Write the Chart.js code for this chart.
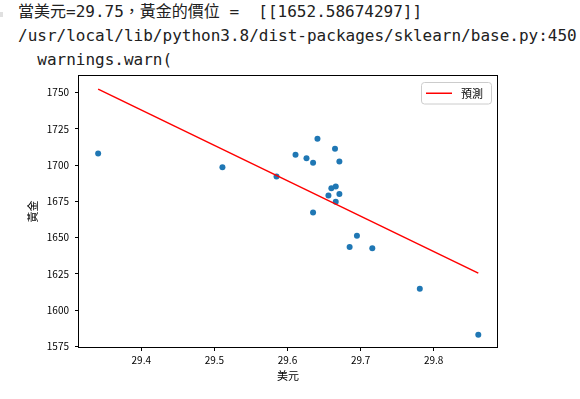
<!DOCTYPE html>
<html lang="zh-Hant">
<head>
<meta charset="utf-8">
<title>美元與黃金</title>
<script src="https://cdn.jsdelivr.net/npm/chart.js@4.4.1/dist/chart.umd.min.js"></script>
<style>
  html, body { margin: 0; padding: 0; background: #fff; }
  body { width: 580px; height: 399px; overflow: hidden; position: relative; }
  #out { position: absolute; left: 18px; top: 0; margin: 0; color: #212121; white-space: pre;
         font: 16px/24px "DejaVu Sans Mono", "Noto Sans CJK TC", monospace; }
  #mark { position: absolute; left: 0; top: 12px; width: 3px; height: 5px; background: #e0e0e0; }
  #chart { position: absolute; left: 0; top: 70px; }
</style>
</head>
<body>
<div id="mark"></div>
<pre id="out">當美元=29.75，黃金的價位 =  [[1652.58674297]]
/usr/local/lib/python3.8/dist-packages/sklearn/base.py:450
  warnings.warn(</pre>
<canvas id="chart" width="580" height="329"></canvas>
<script>
'use strict';

// ---------- データ ----------
const usd  = [29.341, 29.511, 29.585, 29.611, 29.626, 29.635, 29.641, 29.665, 29.671, 29.660,
              29.666, 29.671, 29.656, 29.666, 29.635, 29.695, 29.685, 29.716, 29.781, 29.861];
const gold = [1708.1, 1698.6, 1692.2, 1707.2, 1704.8, 1701.7, 1718.2, 1711.3, 1702.6, 1684.1,
              1685.3, 1680.2, 1679.1, 1674.7, 1667.3, 1651.4, 1643.6, 1642.7, 1614.8, 1583.1];
// 回帰直線(予測)の両端
const lineX = [29.341, 29.861];
const lineY = [1752.4, 1625.6];

const xTicks = [29.4, 29.5, 29.6, 29.7, 29.8];
const yTicks = [1575, 1600, 1625, 1650, 1675, 1700, 1725, 1750];

const BLUE = '#1f77b4', RED = '#ff0000';
const TICK_FONT = { family: '"Noto Sans CJK SC", "DejaVu Sans", sans-serif', size: 10 };
const CJK_FONT = { family: '"Noto Sans CJK TC", sans-serif', size: 11 };

// ---------- プラグイン ----------
const framePlugin = {
  id: 'frame',
  afterDatasetsDraw(chart) {
    const { ctx, chartArea: a } = chart;
    ctx.save();
    ctx.strokeStyle = '#000'; ctx.lineWidth = 1;
    ctx.strokeRect(a.left - 0.5, a.top - 0.5, a.right - a.left + 1, a.bottom - a.top + 1);
    ctx.restore();
  }
};

const legendPlugin = {
  id: 'mplLegend',
  afterDraw(chart) {
    const { ctx, chartArea: a } = chart;
    const ds = chart.data.datasets.find(d => d.label);
    const w = 70, h = 21.5, x = a.right - 6 - w, y = a.top + 6;
    ctx.save();
    ctx.beginPath();
    ctx.roundRect(x + 0.5, y + 0.5, w, h, 3);
    ctx.fillStyle = 'rgba(255,255,255,0.8)'; ctx.fill();
    ctx.strokeStyle = '#cccccc'; ctx.lineWidth = 1; ctx.stroke();
    ctx.beginPath();
    ctx.moveTo(x + 5, y + h / 2 + 0.5); ctx.lineTo(x + 31, y + h / 2 + 0.5);
    ctx.strokeStyle = ds.borderColor; ctx.lineWidth = 1.5; ctx.stroke();
    ctx.fillStyle = '#000';
    ctx.font = `${CJK_FONT.size}px ${CJK_FONT.family}`;
    ctx.textBaseline = 'middle';
    ctx.fillText(ds.label, x + 40, y + h / 2 + 1);
    ctx.restore();
  }
};

// ---------- チャート ----------
const points = usd.map((v, i) => ({ x: v, y: gold[i] }));
const predLine = lineX.map((v, i) => ({ x: v, y: lineY[i] }));

const tickGrid = { display: true, drawOnChartArea: false, drawTicks: true, tickLength: 4, color: '#000' };

new Chart(document.getElementById('chart'), {
  type: 'scatter',
  data: {
    datasets: [
      { type: 'line', label: '預測', data: predLine, borderColor: RED, borderWidth: 1.5,
        pointRadius: 0, fill: false, order: 0 },
      { type: 'scatter', data: points, backgroundColor: BLUE, borderColor: BLUE, borderWidth: 0,
        pointRadius: 3, order: 1 }
    ]
  },
  options: {
    responsive: false, animation: false, devicePixelRatio: 1,
    layout: { padding: { left: 0, top: 6, right: 83, bottom: 0 } },
    plugins: { legend: { display: false }, tooltip: { enabled: false } },
    scales: {
      x: {
        type: 'linear', min: 29.3148, max: 29.8866,
        afterBuildTicks: s => { s.ticks = xTicks.map(v => ({ value: v })); },
        afterFit: s => { s.height = 52; s.paddingLeft = 0; s.paddingRight = 0; },
        ticks: { font: TICK_FONT, color: '#000', padding: 3, maxRotation: 0,
          callback: v => v.toFixed(1) },
        grid: tickGrid, border: { display: false },
        title: { display: true, text: '美元', font: CJK_FONT, color: '#000', padding: { top: 17, bottom: 17 } }
      },
      y: {
        type: 'linear', min: 1574.6, max: 1761.5,
        afterBuildTicks: s => { s.ticks = yTicks.map(v => ({ value: v })); },
        afterFit: s => { s.width = 79; s.paddingTop = 0; s.paddingBottom = 0; },
        ticks: { font: TICK_FONT, color: '#000', padding: 6, callback: v => String(v) },
        grid: tickGrid, border: { display: false },
        title: { display: true, text: '黃金', font: CJK_FONT, color: '#000', padding: { top: 26, bottom: 26 } }
      }
    }
  },
  plugins: [framePlugin, legendPlugin]
});
</script>
</body>
</html>
